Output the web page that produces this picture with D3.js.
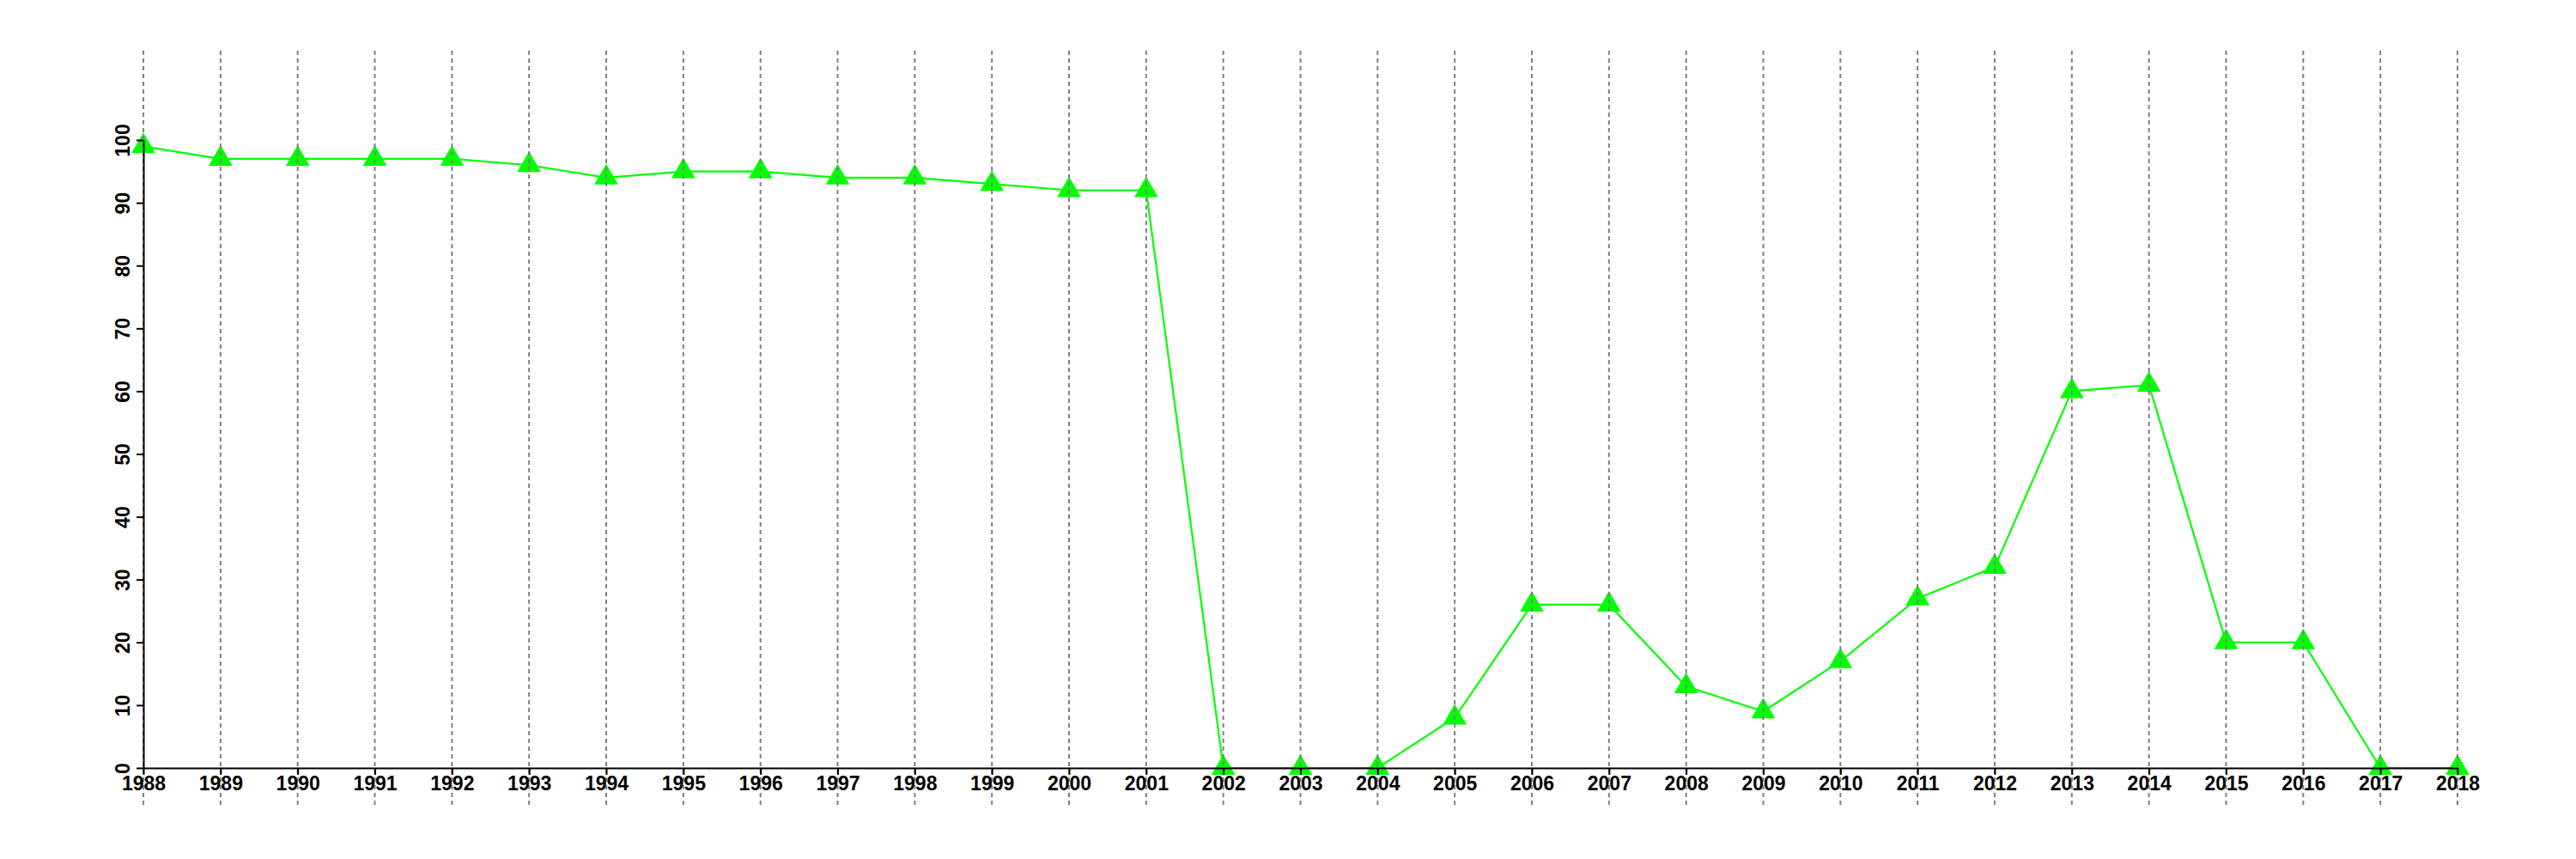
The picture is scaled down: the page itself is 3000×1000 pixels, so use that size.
<!DOCTYPE html>
<html>
<head>
<meta charset="utf-8">
<script src="https://cdn.jsdelivr.net/npm/d3@7"></script>
<style>
  html, body { margin: 0; padding: 0; background: #fff; }
  svg { display: block; }
  text { font-family: "Liberation Sans", Arial, Helvetica, sans-serif; font-weight: bold; }
</style>
</head>
<body>
<svg id="chart" width="3000" height="1000"></svg>
<script>
const years = [1988,1989,1990,1991,1992,1993,1994,1995,1996,1997,1998,1999,2000,2001,2002,2003,2004,2005,2006,2007,2008,2009,2010,2011,2012,2013,2014,2015,2016,2017,2018];
const values = [99,97,97,97,97,96,94,95,95,94,94,93,92,92,0,0,0,8,26,26,13,9,17,27,32,60,61,20,20,0,0];
const yTicks = [0,10,20,30,40,50,60,70,80,90,100];

const svg = d3.select("#chart");
const x = d3.scaleLinear().domain([1988, 2018]).range([167, 2862]);
const y = d3.scaleLinear().domain([0, 100]).range([894, 163]);

const data = years.map((yr, i) => ({ yr, v: values[i] }));

// line
svg.append("path")
  .datum(data)
  .attr("fill", "none")
  .attr("stroke", "#00ff00")
  .attr("stroke-width", 2.2)
  .attr("d", d3.line().x(d => x(d.yr)).y(d => y(d.v)));

// triangle markers (R pch 17 style)
const r = 16;
const hw = r * 0.866;
svg.append("g").selectAll("path")
  .data(data).join("path")
  .attr("fill", "#00ff00")
  .attr("d", d => {
    const cx = x(d.yr), cy = y(d.v);
    return `M${cx},${cy - r}L${cx + hw},${cy + r / 2}L${cx - hw},${cy + r / 2}Z`;
  });

// vertical dotted gridlines
svg.append("g").selectAll("line")
  .data(years).join("line")
  .attr("x1", d => x(d)).attr("x2", d => x(d))
  .attr("y1", 59).attr("y2", 937)
  .attr("stroke", "#808080")
  .attr("stroke-width", 2)
  .attr("stroke-dasharray", "5,4");

// x axis
const xAxis = d3.axisBottom(x)
  .tickValues(years)
  .tickFormat(d3.format("d"))
  .tickSize(8)
  .tickSizeOuter(0)
  .tickPadding(2);
const gx = svg.append("g").attr("transform", "translate(0,894)").call(xAxis);
gx.select(".domain").attr("stroke", "#000").attr("stroke-width", 2);
gx.selectAll(".tick line").attr("stroke", "#000").attr("stroke-width", 2);
gx.selectAll(".tick text").attr("fill", "#000").attr("font-size", 23)
  .attr("font-family", "'Liberation Sans', Arial, sans-serif").attr("font-weight", "bold");

// y axis
const yAxis = d3.axisLeft(y)
  .tickValues(yTicks)
  .tickSize(8)
  .tickSizeOuter(0)
  .tickPadding(0);
const gy = svg.append("g").attr("transform", "translate(167,0)").call(yAxis);
gy.select(".domain").attr("stroke", "#000").attr("stroke-width", 2);
gy.selectAll(".tick line").attr("stroke", "#000").attr("stroke-width", 2);
gy.selectAll(".tick text")
  .attr("fill", "#000").attr("font-size", 23)
  .attr("font-family", "'Liberation Sans', Arial, sans-serif").attr("font-weight", "bold")
  .attr("x", null).attr("dy", null)
  .attr("text-anchor", "middle")
  .attr("transform", "translate(-16,0) rotate(-90)");
</script>
</body>
</html>
